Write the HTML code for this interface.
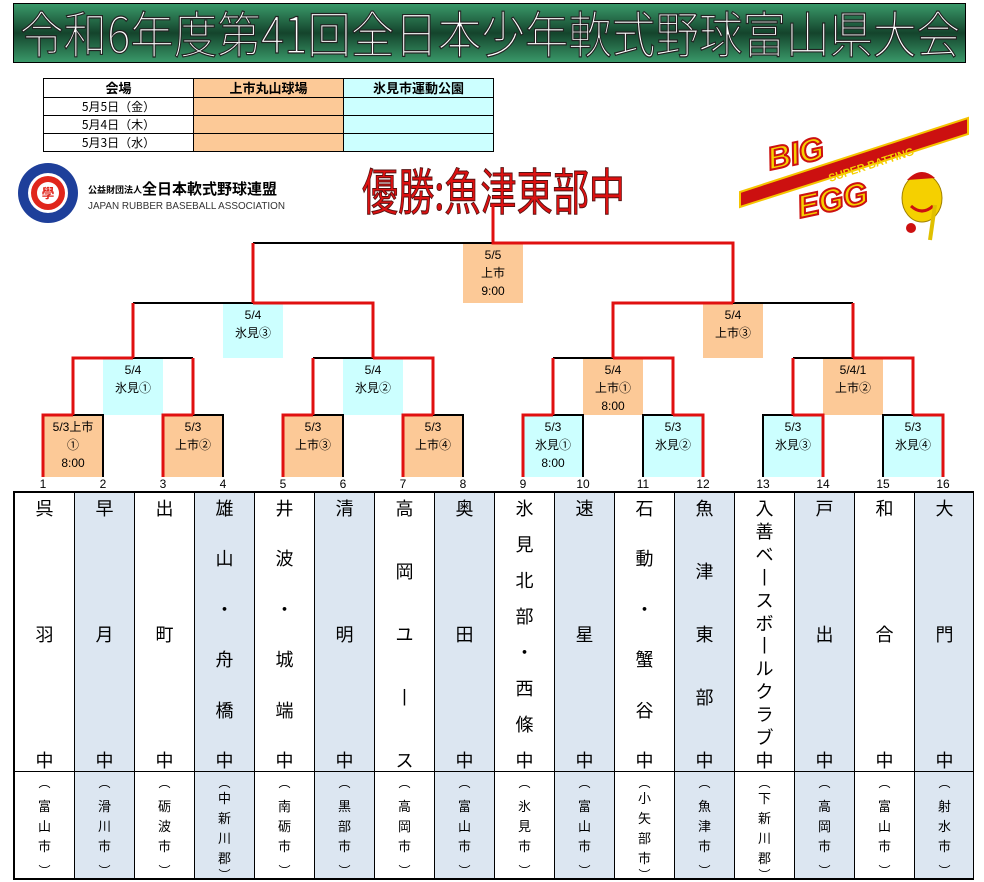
<!DOCTYPE html>
<html><head><meta charset="utf-8">
<style>
*{margin:0;padding:0;box-sizing:border-box}
body{width:984px;height:882px;background:#fff;position:relative;overflow:hidden;font-family:"Liberation Sans","Noto Sans CJK JP",sans-serif;color:#000}
.abs{position:absolute}
#venue{position:absolute;left:43px;top:78px;border-collapse:collapse;font-size:12px;font-family:"Noto Sans CJK JP",sans-serif}
#venue td{border:1px solid #000;height:18px;text-align:center;line-height:16px;padding:0;width:150px}
#venue tr:first-child td{font-weight:bold;font-size:13px;height:19px}
.o{background:#fcc997}.c{background:#ccffff}
.num{position:absolute;top:477px;width:30px;margin-left:-15px;text-align:center;font-size:12px}
#teams{position:absolute;left:13px;top:491px;width:961px;height:389px;border:2px solid #000;border-right:1px solid #000;overflow:hidden}
.col{position:absolute;top:0;width:60px;height:387px;border-right:1px solid #000}
.col.b{background:#dce6f1}
.nm{position:absolute;top:0;left:0;width:59px;height:279px;border-bottom:1px solid #000;display:flex;flex-direction:column;justify-content:space-between;align-items:center;padding:6px 0 0 0;font-size:18px;line-height:20px}
.ht{position:absolute;top:280px;left:0;width:59px;height:107px;display:flex;flex-direction:column;justify-content:space-between;align-items:center;padding:4px 0 3px;font-size:13px;line-height:20px}
.ht>span{line-height:12px;font-size:12px}
.ht .m{display:flex;flex-direction:column;align-items:center}
.box{position:absolute;font-size:12px;line-height:18px;text-align:center;padding-top:3px}
</style></head><body>

<svg class="abs" style="left:0;top:0" width="984" height="70">
<defs><linearGradient id="g" x1="0" y1="0" x2="0" y2="1">
<stop offset="0" stop-color="#3a9a6a"/><stop offset="0.5" stop-color="#14442c"/><stop offset="1" stop-color="#3a9a6a"/></linearGradient></defs>
<rect x="13.5" y="3.5" width="952" height="59" fill="url(#g)" stroke="#000"/>
<text x="20" y="53" textLength="940" lengthAdjust="spacingAndGlyphs" font-family="Noto Sans CJK JP,sans-serif" font-weight="300" font-size="50" fill="#fff" stroke="#222" stroke-width="1.2">令和6年度第41回全日本少年軟式野球富山県大会</text>
</svg>

<table id="venue">
<tr><td>会場</td><td class="o">上市丸山球場</td><td class="c">氷見市運動公園</td></tr>
<tr><td>5月5日（金）</td><td class="o"></td><td class="c"></td></tr>
<tr><td>5月4日（木）</td><td class="o"></td><td class="c"></td></tr>
<tr><td>5月3日（水）</td><td class="o"></td><td class="c"></td></tr>
</table>

<svg class="abs" style="left:0;top:160px" width="300" height="70">
<circle cx="48" cy="33" r="30" fill="#1e3f9a"/>
<circle cx="48" cy="33" r="20" fill="#fff"/>
<circle cx="48" cy="33" r="17" fill="#e0261c"/>
<circle cx="48" cy="33" r="11" fill="#fff"/>
<text x="48" y="38" font-size="13" text-anchor="middle" fill="#e0261c" font-weight="bold">學</text>
<text x="88" y="33" font-size="9" font-weight="bold">公益財団法人</text>
<text x="142" y="34" font-size="15" font-weight="bold">全日本軟式野球連盟</text>
<text x="88" y="49" font-size="10" fill="#333" textLength="197" lengthAdjust="spacingAndGlyphs">JAPAN RUBBER BASEBALL ASSOCIATION</text>
</svg>

<svg class="abs" style="left:340px;top:158px" width="300" height="65">
<text x="22" y="52" textLength="263" lengthAdjust="spacingAndGlyphs" font-family="Noto Sans CJK JP,sans-serif" font-size="50" font-weight="400" fill="#dd1111" stroke="#551111" stroke-width="1">優勝:魚津東部中</text>
</svg>

<svg class="abs" style="left:735px;top:110px" width="249" height="140">
<polygon points="5,82 233,8 233,24 5,97" fill="#cc1010" stroke="#f5c400" stroke-width="2"/>
<text x="95" y="72" font-size="11" font-weight="bold" fill="#f5d000" transform="rotate(-18 95 72)">SUPER BATTING</text>
<text x="35" y="60" font-size="32" font-weight="bold" font-style="italic" fill="#f5d000" stroke="#cc1010" stroke-width="2" transform="rotate(-12 35 60)">BIG</text>
<text x="65" y="108" font-size="32" font-weight="bold" font-style="italic" fill="#f5d000" stroke="#cc1010" stroke-width="2" transform="rotate(-12 65 108)">EGG</text>
<ellipse cx="187" cy="88" rx="20" ry="24" fill="#f5d000" stroke="#a08000"/>
<path d="M172,70 Q186,55 200,68 Z" fill="#cc1010"/>
<path d="M176,96 Q187,106 198,96" stroke="#cc1010" stroke-width="3" fill="none"/>
<line x1="200" y1="95" x2="195" y2="130" stroke="#e0c000" stroke-width="4"/>
<circle cx="176" cy="118" r="5" fill="#cc1010"/>
</svg>

<div class="box o" style="left:463px;top:243px;width:60px;height:60px">5/5<br>上市<br>9:00</div>
<div class="box c" style="left:223px;top:303px;width:60px;height:55px">5/4<br>氷見③</div>
<div class="box o" style="left:703px;top:303px;width:60px;height:55px">5/4<br>上市③</div>
<div class="box c" style="left:103px;top:358px;width:60px;height:57px">5/4<br>氷見①</div>
<div class="box c" style="left:343px;top:358px;width:60px;height:57px">5/4<br>氷見②</div>
<div class="box o" style="left:583px;top:358px;width:60px;height:57px">5/4<br>上市①<br>8:00</div>
<div class="box o" style="left:823px;top:358px;width:60px;height:57px">5/4/1<br>上市②</div>
<div class="box o" style="left:43px;top:415px;width:60px;height:62px">5/3上市<br>①<br>8:00</div>
<div class="box o" style="left:163px;top:415px;width:60px;height:62px">5/3<br>上市②</div>
<div class="box o" style="left:283px;top:415px;width:60px;height:62px">5/3<br>上市③</div>
<div class="box o" style="left:403px;top:415px;width:60px;height:62px">5/3<br>上市④</div>
<div class="box c" style="left:523px;top:415px;width:60px;height:62px">5/3<br>氷見①<br>8:00</div>
<div class="box c" style="left:643px;top:415px;width:60px;height:62px">5/3<br>氷見②</div>
<div class="box c" style="left:763px;top:415px;width:60px;height:62px">5/3<br>氷見③</div>
<div class="box c" style="left:883px;top:415px;width:60px;height:62px">5/3<br>氷見④</div>

<svg class="abs" style="left:0;top:0" width="984" height="490" fill="none">
<g stroke="#000" stroke-width="2">
<path d="M73,415H103V477 M193,415H223V477 M313,415H343V477 M433,415H463V477 M553,415H583V477"/>
<path d="M643,477V415H673 M763,477V415H793 M883,477V415H913"/>
<path d="M133,358H193 M313,358H373 M553,358H613 M793,358H853"/>
<path d="M133,303H253 M733,303H853 M253,243H493"/>
</g>
<g stroke="#e01010" stroke-width="3">
<path d="M43,477V415H73 M163,477V415H193 M283,477V415H313 M403,477V415H433 M523,477V415H553"/>
<path d="M673,415H703V477 M793,415H823V477 M913,415H943V477"/>
<path d="M73,415V358H133 M193,415V358 M313,415V358 M433,415V358H373 M553,415V358 M673,415V358H613 M793,415V358 M913,415V358H853"/>
<path d="M133,358V303 M373,358V303H253 M613,358V303H733 M853,358V303"/>
<path d="M253,303V243 M733,303V243H493V205"/>
</g>
</svg>

<div class="num" style="left:43px">1</div><div class="num" style="left:103px">2</div><div class="num" style="left:163px">3</div><div class="num" style="left:223px">4</div>
<div class="num" style="left:283px">5</div><div class="num" style="left:343px">6</div><div class="num" style="left:403px">7</div><div class="num" style="left:463px">8</div>
<div class="num" style="left:523px">9</div><div class="num" style="left:583px">10</div><div class="num" style="left:643px">11</div><div class="num" style="left:703px">12</div>
<div class="num" style="left:763px">13</div><div class="num" style="left:823px">14</div><div class="num" style="left:883px">15</div><div class="num" style="left:943px">16</div>

<div id="teams">
<div class="col" style="left:0"><div class="nm"><span>呉</span><span>羽</span><span>中</span></div><div class="ht"><span>︵</span><div class="m"><span>富</span><span>山</span><span>市</span></div><span>︶</span></div></div>
<div class="col b" style="left:60px"><div class="nm"><span>早</span><span>月</span><span>中</span></div><div class="ht"><span>︵</span><div class="m"><span>滑</span><span>川</span><span>市</span></div><span>︶</span></div></div>
<div class="col" style="left:120px"><div class="nm"><span>出</span><span>町</span><span>中</span></div><div class="ht"><span>︵</span><div class="m"><span>砺</span><span>波</span><span>市</span></div><span>︶</span></div></div>
<div class="col b" style="left:180px"><div class="nm"><span>雄</span><span>山</span><span>・</span><span>舟</span><span>橋</span><span>中</span></div><div class="ht"><span>︵</span><div class="m"><span>中</span><span>新</span><span>川</span><span>郡</span></div><span>︶</span></div></div>
<div class="col" style="left:240px"><div class="nm"><span>井</span><span>波</span><span>・</span><span>城</span><span>端</span><span>中</span></div><div class="ht"><span>︵</span><div class="m"><span>南</span><span>砺</span><span>市</span></div><span>︶</span></div></div>
<div class="col b" style="left:300px"><div class="nm"><span>清</span><span>明</span><span>中</span></div><div class="ht"><span>︵</span><div class="m"><span>黒</span><span>部</span><span>市</span></div><span>︶</span></div></div>
<div class="col" style="left:360px"><div class="nm"><span>高</span><span>岡</span><span>ユ</span><span>丨</span><span>ス</span></div><div class="ht"><span>︵</span><div class="m"><span>高</span><span>岡</span><span>市</span></div><span>︶</span></div></div>
<div class="col b" style="left:420px"><div class="nm"><span>奥</span><span>田</span><span>中</span></div><div class="ht"><span>︵</span><div class="m"><span>富</span><span>山</span><span>市</span></div><span>︶</span></div></div>
<div class="col" style="left:480px"><div class="nm"><span>氷</span><span>見</span><span>北</span><span>部</span><span>・</span><span>西</span><span>條</span><span>中</span></div><div class="ht"><span>︵</span><div class="m"><span>氷</span><span>見</span><span>市</span></div><span>︶</span></div></div>
<div class="col b" style="left:540px"><div class="nm"><span>速</span><span>星</span><span>中</span></div><div class="ht"><span>︵</span><div class="m"><span>富</span><span>山</span><span>市</span></div><span>︶</span></div></div>
<div class="col" style="left:600px"><div class="nm"><span>石</span><span>動</span><span>・</span><span>蟹</span><span>谷</span><span>中</span></div><div class="ht"><span>︵</span><div class="m"><span>小</span><span>矢</span><span>部</span><span>市</span></div><span>︶</span></div></div>
<div class="col b" style="left:660px"><div class="nm"><span>魚</span><span>津</span><span>東</span><span>部</span><span>中</span></div><div class="ht"><span>︵</span><div class="m"><span>魚</span><span>津</span><span>市</span></div><span>︶</span></div></div>
<div class="col" style="left:720px"><div class="nm"><span>入</span><span>善</span><span>ベ</span><span>丨</span><span>ス</span><span>ボ</span><span>丨</span><span>ル</span><span>ク</span><span>ラ</span><span>ブ</span><span>中</span></div><div class="ht"><span>︵</span><div class="m"><span>下</span><span>新</span><span>川</span><span>郡</span></div><span>︶</span></div></div>
<div class="col b" style="left:780px"><div class="nm"><span>戸</span><span>出</span><span>中</span></div><div class="ht"><span>︵</span><div class="m"><span>高</span><span>岡</span><span>市</span></div><span>︶</span></div></div>
<div class="col" style="left:840px"><div class="nm"><span>和</span><span>合</span><span>中</span></div><div class="ht"><span>︵</span><div class="m"><span>富</span><span>山</span><span>市</span></div><span>︶</span></div></div>
<div class="col b" style="left:900px;width:59px;border-right:none"><div class="nm"><span>大</span><span>門</span><span>中</span></div><div class="ht"><span>︵</span><div class="m"><span>射</span><span>水</span><span>市</span></div><span>︶</span></div></div>
</div>
</body></html>
